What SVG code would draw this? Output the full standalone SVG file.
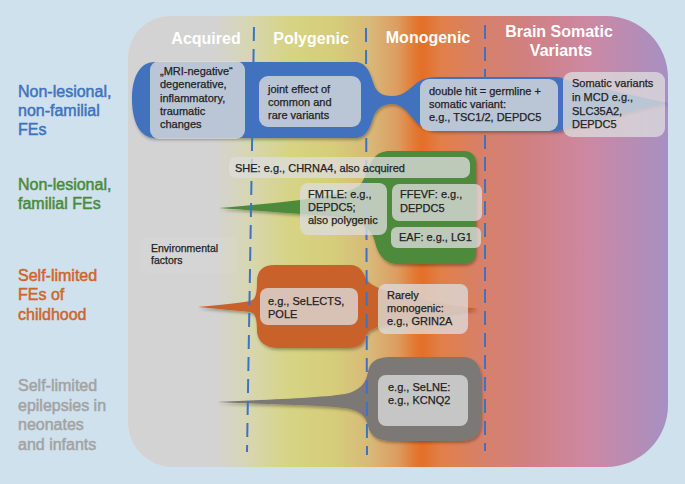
<svg xmlns="http://www.w3.org/2000/svg" width="685" height="484" viewBox="0 0 685 484">
<defs>
<linearGradient id="bg" x1="128" y1="0" x2="668" y2="0" gradientUnits="userSpaceOnUse">
<stop offset="0" stop-color="#d3d3d3"/>
<stop offset="0.16" stop-color="#d3d3d3"/>
<stop offset="0.22" stop-color="#d7d6b4"/>
<stop offset="0.30" stop-color="#d6d483"/>
<stop offset="0.38" stop-color="#d6cd7a"/>
<stop offset="0.45" stop-color="#d8b878"/>
<stop offset="0.50" stop-color="#dc9c60"/>
<stop offset="0.53" stop-color="#e27a34"/>
<stop offset="0.545" stop-color="#e46f28"/>
<stop offset="0.58" stop-color="#e08048"/>
<stop offset="0.65" stop-color="#d88068"/>
<stop offset="0.74" stop-color="#d08080"/>
<stop offset="0.855" stop-color="#cc88a4"/>
<stop offset="1" stop-color="#a690c2"/>
</linearGradient>
<filter id="sh" x="-10%" y="-20%" width="120%" height="140%">
<feDropShadow dx="1" dy="2" stdDeviation="1.5" flood-color="#000" flood-opacity="0.3"/>
</filter>
<style>
.box{fill:#dcdcdc;fill-opacity:0.78}
.bt{font-family:"Liberation Sans",Arial,Helvetica,sans-serif;font-size:11px;fill:#222;stroke:#222;stroke-width:0.25}
.hd{font-family:"Liberation Sans",Arial,Helvetica,sans-serif;font-size:16px;font-weight:bold;fill:#fff;text-anchor:middle}
.rl{font-family:"Liberation Sans",Arial,Helvetica,sans-serif;font-size:16px;stroke-width:0.5}
.div{fill:none;stroke:#3b73c8;stroke-width:2;stroke-dasharray:14 8}
</style>
</defs>
<rect width="685" height="484" fill="#cfe1ec"/>
<path id="panel" d="M170,16 L606,16 A62,62 0 0 1 668,78 L668,405 A62,62 0 0 1 606,467 L173,467 A45,45 0 0 1 128,422 L128,58 A42,42 0 0 1 170,16 Z" fill="url(#bg)"/>
<rect x="140" y="237" width="98" height="36" rx="6" fill="#fff" fill-opacity="0.05"/>

<g id="headers">
<text class="hd" x="206" y="44">Acquired</text>
<text class="hd" x="311" y="44">Polygenic</text>
<text class="hd" x="428" y="43">Monogenic</text>
<text class="hd" x="559" y="37">Brain Somatic</text>
<text class="hd" x="561" y="56">Variants</text>
</g>

<g id="row-labels">
<g id="label-nonfamilial" class="rl" fill="#3f73bf" stroke="#3f73bf">
<text x="18" y="97">Non-lesional,</text>
<text x="18" y="116">non-familial</text>
<text x="18" y="135">FEs</text>
</g>
<g id="label-familial" class="rl" fill="#4a8a3c" stroke="#4a8a3c">
<text x="18" y="190">Non-lesional,</text>
<text x="18" y="209">familial FEs</text>
</g>
<g id="label-childhood" class="rl" fill="#cf6529" stroke="#cf6529">
<text x="18" y="281">Self-limited</text>
<text x="18" y="300">FEs of</text>
<text x="18" y="320">childhood</text>
</g>
<g id="label-neonates" class="rl" fill="#a3a3a3" stroke="#a3a3a3">
<text x="18" y="391">Self-limited</text>
<text x="18" y="411">epilepsies in</text>
<text x="18" y="430">neonates</text>
<text x="18" y="450">and infants</text>
</g>
</g>

<g id="shapes" filter="url(#sh)">
<path id="shape-blue" fill="#4272be" d="M132,99 C132,80 138,62 155,62 L355,62 C366,62 370,72 373,82 C376,92 381,96 392,96 C404,96 410,88 418,82 C424,78 430,77 440,77 L555,77 C560,77 563,78 566,80 C600,88 640,97 667,103 C640,108 600,120 566,128 C563,130 560,131 555,131 L440,131 C430,131 424,128 418,124 C410,116 404,104 392,104 C381,104 376,110 373,118 C370,128 366,138 355,138 L155,138 C138,138 132,118 132,99 Z"/>
<path id="shape-green" fill="#4e8a3a" d="M219,208 C245,206 275,203 300,200 C330,196 350,193 360,185 C366,178 368,165 374,158 C378,153 383,151 390,151 L464,151 C472,151 476,156 476,164 L476,252 C476,260 471,264 463,264 L398,264 C385,264 378,255 375,242 C372,228 360,218 330,216 C300,214 250,210 219,208 Z"/>
<path id="shape-orange" fill="#c8622a" d="M198,307 C220,305 240,303 250,301 C256,300 257,292 257,282 C257,271 262,265 275,265 L350,265 C360,265 363,272 366,279 C370,285 378,288 390,292 C420,300 455,306 478,309 C455,312 420,318 390,324 C375,327 368,330 366,336 C364,344 358,348 348,348 L278,348 C266,348 258,342 257,332 C257,320 256,313 250,312 C240,311 220,309 198,307 Z"/>
<path id="shape-gray" fill="#7b7876" d="M217,402 C260,400 320,398 345,394 C360,391 366,383 368,372 C370,362 376,357 392,357 L462,357 C475,357 481,365 481,378 L481,422 C481,435 474,441 460,441 L392,441 C378,441 370,436 368,426 C366,416 360,410 345,408 C320,405 260,404 217,402 Z"/>
</g>

<g id="connectors">
<line class="div" x1="254" y1="27" x2="247" y2="452"/>
<line class="div" x1="366" y1="28" x2="367" y2="455"/>
<line class="div" x1="485" y1="25" x2="485" y2="451"/>
</g>

<g id="node-mri">
<rect class="box" x="150" y="61" width="95" height="78" rx="9"/>
<text class="bt" x="160" y="75">„MRI-negative“</text>
<text class="bt" x="160" y="88">degenerative,</text>
<text class="bt" x="160" y="102">inflammatory,</text>
<text class="bt" x="160" y="115">traumatic</text>
<text class="bt" x="160" y="128">changes</text>
</g>
<g id="node-joint">
<rect class="box" x="259" y="76" width="102" height="51" rx="9"/>
<text class="bt" x="268" y="93">joint effect of</text>
<text class="bt" x="268" y="106">common and</text>
<text class="bt" x="268" y="119">rare variants</text>
</g>
<g id="node-doublehit">
<rect class="box" x="420" y="79" width="138" height="52" rx="9"/>
<text class="bt" x="429" y="95">double hit = germline +</text>
<text class="bt" x="429" y="108">somatic variant:</text>
<text class="bt" x="429" y="121">e.g., TSC1/2, DEPDC5</text>
</g>
<g id="node-somatic">
<rect class="box" x="563" y="72" width="102" height="65" rx="9"/>
<text class="bt" x="572" y="87">Somatic variants</text>
<text class="bt" x="572" y="101">in MCD e.g.,</text>
<text class="bt" x="572" y="115">SLC35A2,</text>
<text class="bt" x="572" y="128">DEPDC5</text>
</g>
<g id="node-she">
<rect class="box" x="229" y="157" width="241" height="21" rx="7"/>
<text class="bt" x="235" y="172">SHE: e.g., CHRNA4, also acquired</text>
</g>
<g id="node-fmtle">
<rect class="box" x="300" y="183" width="87" height="52" rx="8"/>
<text class="bt" x="308" y="198">FMTLE: e.g.,</text>
<text class="bt" x="308" y="211">DEPDC5;</text>
<text class="bt" x="308" y="224">also polygenic</text>
</g>
<g id="node-ffevf">
<rect class="box" x="392" y="184" width="90" height="37" rx="7"/>
<text class="bt" x="400" y="198">FFEVF: e.g.,</text>
<text class="bt" x="400" y="212">DEPDC5</text>
</g>
<g id="node-eaf">
<rect class="box" x="391" y="227" width="90" height="21" rx="6"/>
<text class="bt" x="399" y="241">EAF: e.g., LG1</text>
</g>
<g id="node-environmental">
<text class="bt" x="151" y="252" style="font-size:10.5px">Environmental</text>
<text class="bt" x="151" y="264" style="font-size:10.5px">factors</text>
</g>
<g id="node-selects">
<rect class="box" x="260" y="288" width="98" height="37" rx="8"/>
<text class="bt" x="268" y="305">e.g., SeLECTS,</text>
<text class="bt" x="268" y="318">POLE</text>
</g>
<g id="node-rarely">
<rect class="box" x="378" y="284" width="90" height="50" rx="8"/>
<text class="bt" x="387" y="299">Rarely</text>
<text class="bt" x="387" y="312">monogenic:</text>
<text class="bt" x="387" y="325">e.g., GRIN2A</text>
</g>
<g id="node-selne">
<rect class="box" x="378" y="375" width="90" height="51" rx="8"/>
<text class="bt" x="388" y="391">e.g., SeLNE:</text>
<text class="bt" x="388" y="404">e.g., KCNQ2</text>
</g>
</svg>
